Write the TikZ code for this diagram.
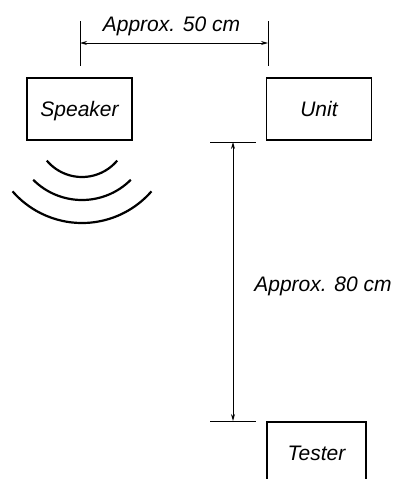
\documentclass[tikz,border=0pt]{standalone}
\usepackage{fontspec}
\setmainfont{Liberation Sans}
\usetikzlibrary{arrows.meta}
\begin{document}
\begin{tikzpicture}[x=1pt,y=-1pt,
  box/.style={draw=black,line width=1.4pt,minimum width=105pt,minimum height=62pt,inner sep=0pt,text height=15pt,text depth=0pt,font=\fontsize{21}{25}\selectfont\itshape},
  lbl/.style={font=\fontsize{21}{25}\selectfont\itshape,inner sep=0pt,anchor=base},
  tick/.style={line width=1pt},
  dim/.style={line width=0.9pt,{Stealth[length=7pt,width=4pt]}-{Stealth[length=7pt,width=4pt]}},
  wave/.style={line width=2.2pt}]
\useasboundingbox (0,0) rectangle (396,479);
\fill[white] (0,0) rectangle (396,479);
\begin{scope}
\clip (0,0) rectangle (396,479);
\node[box] (spk) at (79.5,109) {Speaker};
\node[box] (unit) at (319,109) {Unit};
\node[box,minimum width=99pt] (tester) at (316.5,453) {Tester};
% horizontal dimension
\coordinate (h1a) at (80,21); \coordinate (h1b) at (80,66);
\coordinate (h2a) at (268,21); \coordinate (h2b) at (268,66);
\draw[tick] (h1a) -- (h1b);
\draw[tick] (h2a) -- (h2b);
\coordinate (ha) at (80,43); \coordinate (hb) at (268,43);
\draw[dim] (ha) -- (hb);
\node[lbl] (l50) at (171.5,31) {Approx. 50 cm};
% vertical dimension
\coordinate (v1a) at (210,142); \coordinate (v1b) at (256,142);
\coordinate (v2a) at (210,421); \coordinate (v2b) at (256,421);
\draw[tick] (v1a) -- (v1b);
\draw[tick] (v2a) -- (v2b);
\coordinate (va) at (233,142); \coordinate (vb) at (233,421);
\draw[dim] (va) -- (vb);
\node[lbl] (l80) at (323,291) {Approx. 80 cm};
% sound waves
\coordinate (wc) at (82,131);
\draw[wave] (wc) ++(140:46) arc[start angle=140,end angle=40,radius=46];
\draw[wave] (wc) ++(135:69) arc[start angle=135,end angle=45,radius=69];
\draw[wave] (wc) ++(139:92) arc[start angle=139,end angle=41,radius=92];
\end{scope}
\end{tikzpicture}
\end{document}
